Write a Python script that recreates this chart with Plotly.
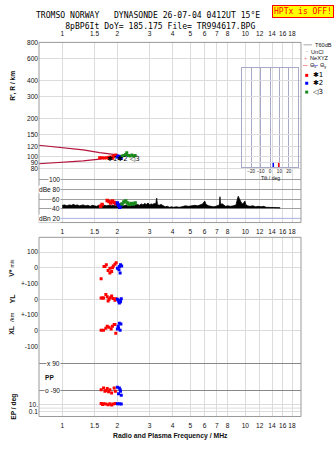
import plotly.graph_objects as go

W, H = 335, 451
def PX(px): return px / W
def PY(py): return 1 - py / H

# ---------------- data ----------------
freq_ticks = [1, 1.5, 2, 3, 4, 5, 6, 7, 8, 10, 12, 14, 16, 18]
freq_labels = ["1", "1.5", "2", "3", "4", "5", "6", "7", "8", "10", "12", "14", "16", "18"]
height_ticks = [80, 90, 100, 120, 150, 200, 300, 400, 600, 800]
tilt_ticks = [-20, -10, 0, 10, 20]

model_hi_f = [0.745, 1.0, 1.3, 1.6, 2.0]
model_hi_r = [123, 118, 113, 107.5, 103]
model_lo_f = [0.745, 1.0, 1.3, 1.6, 1.95]
model_lo_r = [87.7, 89.8, 92.5, 95.3, 100]

echo1_f = [1.6, 1.65, 1.7, 1.75, 1.8, 1.85, 1.88, 1.9, 1.93, 1.96, 1.99]
echo1_r = [98, 98, 97.5, 98, 98.5, 99, 97, 100, 102, 103, 101]
echo2_f = [2.0, 2.02, 2.04, 2.07, 2.1]
echo2_r = [99, 101, 98, 100, 97]
echo3_f = [2.12, 2.17, 2.22, 2.25, 2.3, 2.35, 2.4, 2.45, 2.5]
echo3_r = [101, 102, 104, 107, 102, 101, 103, 101, 102]

noise_f = [1.00, 1.03, 1.06, 1.09, 1.12, 1.15, 1.18, 1.21, 1.24, 1.27,
           1.30, 1.34, 1.38, 1.42, 1.46, 1.50, 1.54, 1.58, 1.62, 1.66,
           1.70, 1.75, 1.80, 1.85, 1.90, 1.95, 2.00, 2.05, 2.10, 2.16,
           2.22, 2.28, 2.34, 2.40, 2.46, 2.52, 2.58, 2.64, 2.70, 2.76,
           2.82, 2.88, 2.94, 3.00, 3.06, 3.12, 3.18, 3.24, 3.28, 3.31,
           3.38, 3.46, 3.55, 3.65, 3.75, 3.85, 3.95, 4.05, 4.2, 4.35,
           4.5, 4.7, 4.9, 5.1, 5.3, 5.5, 5.7, 5.85, 6.0, 6.1,
           6.3, 6.5, 6.7, 6.9, 7.1, 7.22, 7.27, 7.32, 7.5, 7.65,
           7.8, 8.0, 8.3, 8.6, 8.9, 9.0, 9.15, 9.3, 9.45, 9.6,
           9.8, 9.95, 10.05, 10.3, 10.6, 11.0, 11.4, 11.8, 12.2, 12.6,
           13.0, 13.5, 14.0, 14.5, 15.0, 15.5]
noise_db = [47, 48, 46, 48, 47, 49, 47, 48, 46, 47,
            48, 46, 47, 45, 47, 46, 45, 47, 46, 48,
            47, 46, 47, 46, 47, 46, 47, 46, 47, 46,
            47, 46, 47, 46, 47, 48, 49, 47, 50, 48,
            51, 49, 52, 48, 50, 49, 51, 50, 62, 49,
            47, 49, 46, 44, 45, 43, 44, 43, 44, 43,
            44, 46, 45, 46, 47, 46, 48, 50, 56, 49,
            46, 45, 44, 45, 46, 48, 65, 50, 50, 47,
            45, 46, 45, 46, 48, 56, 66, 60, 55, 50,
            52, 56, 49, 46, 45, 46, 44, 45, 44, 45,
            43, 43, 42, 43, 42, 42]
noise_floor = 41.5

db1_f = [1.62, 1.65, 1.76, 1.8, 1.84, 1.88, 1.92, 1.96]
db1_v = [45, 49, 57, 55, 52, 56, 53, 51]
db2_f = [2.0, 2.03, 2.06, 2.09]
db2_v = [52, 47, 43, 48]
db3_f = [2.12, 2.17, 2.22, 2.27, 2.32, 2.38, 2.44, 2.5]
db3_v = [50, 54, 56, 52, 49, 51, 50, 52]

v1_f = [1.63, 1.69, 1.71, 1.74, 1.78, 1.82, 1.82, 1.86, 1.88, 1.9, 1.94, 1.97]
v1_v = [-69, 8, 8, 19, -17, -2, -33, -23, 0, 12, 23, 33]
v2_f = [2.0, 2.04, 2.05, 2.07, 2.08, 2.11]
v2_v = [-2, -12, 8, -33, 19, 12]

yl1_f = [1.63, 1.66, 1.68, 1.73, 1.76, 1.78, 1.8, 1.83, 1.86, 1.9, 1.94, 1.97]
yl1_v = [8, 8, 8, 31, 17, -10, 0, 10, 21, 6, -6, 4]
yl2_f = [2.0, 2.03, 2.05, 2.07, 2.08, 2.1]
yl2_v = [0, -12, -23, -6, -15, 4]

xl1_f = [1.63, 1.68, 1.73, 1.76, 1.8, 1.85, 1.88, 1.92, 1.94, 1.96]
xl1_v = [4, 4, 17, 29, 23, 12, 29, 40, 40, -15]
xl2_f = [2.0, 2.02, 2.03, 2.05, 2.07, 2.09]
xl2_v = [12, 29, 17, 48, 4, 44]

pp1_f = [1.63, 1.68, 1.71, 1.73, 1.76, 1.79, 1.82, 1.86, 1.92, 1.95]
pp1_v = [-82, -71, -92, -88, -75, -96, -82, -103, -71, -92]
pp2_f = [2.0, 2.03, 2.05, 2.07, 2.08, 2.1]
pp2_v = [-66, -109, -71, -82, -92, -118]

ep1_f = [1.63, 1.66, 1.68, 1.73, 1.78, 1.82, 1.86, 1.9, 1.95]
ep1_v = [23, 12, 19, 16, 10, 19, 8, 16, 23]
ep2_f = [2.0, 2.05, 2.1]
ep2_v = [19, 19, 16]

tilt_x = [9.2]
tilt_y = [3.5]

RED, BLUE, GREEN = "#ff0000", "#0000ff", "#1a8a1a"
MODEL = "#b4143c"
GRID = "#dcdcdc"
FRAME = "#999999"
TF = dict(family="Liberation Sans", size=6.6, color="#111111")
MONO = "DejaVu Sans Mono"

fig = go.Figure()

def pts(x, y, color, xa, ya, size=3):
    fig.add_trace(go.Scatter(x=x, y=y, mode="markers", xaxis=xa, yaxis=ya,
                             marker=dict(symbol="square", size=size, color=color, line=dict(width=0)),
                             showlegend=False, hoverinfo="skip"))

# height panel
fig.add_trace(go.Scatter(x=model_hi_f, y=model_hi_r, mode="lines", xaxis="x", yaxis="y",
                         line=dict(color=MODEL, width=1.2), showlegend=False))
fig.add_trace(go.Scatter(x=model_lo_f, y=model_lo_r, mode="lines", xaxis="x", yaxis="y",
                         line=dict(color=MODEL, width=1.2), showlegend=False))
pts(echo1_f, echo1_r, RED, "x", "y")
pts(echo2_f, echo2_r, BLUE, "x", "y")
pts(echo3_f, echo3_r, GREEN, "x", "y")

# dB panel
fig.add_trace(go.Scatter(x=noise_f, y=[noise_floor] * len(noise_f), mode="lines", xaxis="x2", yaxis="y2",
                         line=dict(color="black", width=0.5), showlegend=False))
fig.add_trace(go.Scatter(x=noise_f, y=noise_db, mode="lines", xaxis="x2", yaxis="y2", fill="tonexty",
                         fillcolor="black", line=dict(color="black", width=0.8), showlegend=False))
pts(db1_f, db1_v, RED, "x2", "y2", 3.5)
pts(db2_f, db2_v, BLUE, "x2", "y2", 3.5)
pts(db3_f, db3_v, GREEN, "x2", "y2", 3.5)

# lower panels
for (f1, v1, f2, v2, ya) in [(v1_f, v1_v, v2_f, v2_v, "y3"), (yl1_f, yl1_v, yl2_f, yl2_v, "y4"),
                             (xl1_f, xl1_v, xl2_f, xl2_v, "y5"), (pp1_f, pp1_v, pp2_f, pp2_v, "y6"),
                             (ep1_f, ep1_v, ep2_f, ep2_v, "y7")]:
    pts(f1, v1, RED, "x3", ya)
    pts(f2, v2, BLUE, "x3", ya)

# tilt inset
fig.add_trace(go.Scatter(x=tilt_x, y=[84], mode="markers", xaxis="x4", yaxis="y8",
                         marker=dict(symbol="line-ns", size=5, line=dict(color=RED, width=1.5)), showlegend=False))
fig.add_trace(go.Scatter(x=tilt_y, y=[84], mode="markers", xaxis="x4", yaxis="y8",
                         marker=dict(symbol="line-ns", size=5, line=dict(color=BLUE, width=1.5)), showlegend=False))

XR = [-0.1273, 1.3044]
XD = [PX(39), PX(301)]
def xax(anchor, side, labels=True):
    return dict(domain=XD, type="log", range=XR, anchor=anchor, side=side, tickvals=freq_ticks,
                ticktext=freq_labels, showticklabels=labels, showgrid=True, gridcolor=GRID, gridwidth=1,
                zeroline=False, showline=False, ticks="outside", ticklen=3, tickcolor="rgba(0,0,0,0)",
                tickfont=TF, tickangle=0)

def yax(dom, rng, anchor, tickvals=None, ticktext=None, typ="linear", grid=GRID, labels=True):
    d = dict(domain=[PY(dom[1]), PY(dom[0])], range=rng, anchor=anchor, type=typ, showgrid=True,
             gridcolor=grid, zeroline=False, showline=False, ticks="", tickfont=TF,
             showticklabels=labels)
    if tickvals is not None:
        d["tickvals"] = tickvals
    if ticktext is not None:
        d["ticktext"] = ticktext
    return d

INSET_BOTTOM = 165.5
layout = dict(
    width=W, height=H, margin=dict(l=0, r=0, t=0, b=0),
    paper_bgcolor="white", plot_bgcolor="rgba(0,0,0,0)", showlegend=False,
    xaxis=xax("y", "top"),
    yaxis=yax((39, 173), [1.859, 2.906], "x", height_ticks, [str(v) for v in height_ticks], "log"),
    xaxis2=xax("y2", "bottom"),
    yaxis2=yax((173, 222), [11.2, 111.7], "x2", [40, 60, 80, 100], None, grid="#a0a0a0", labels=False),
    xaxis3=xax("y7", "bottom"),
    yaxis3=yax((237, 284), [-100, 193.75], "x3", [0, 100], ["0", "100"]),
    yaxis4=yax((284, 316), [-100, 100], "x3", [0, 100], ["0", "+-100"]),
    yaxis5=yax((316, 348), [-100, 100], "x3", [-100, 0, 100], ["-100", "0", "+-100"]),
    yaxis6=yax((348, 400), [-135, 199.3], "x3", [-90, 90], None, grid="#888888", labels=False),
    yaxis7=yax((400, 419), [-2.43, 3], "x3", [0.1, 10], ["0.1", "10."], "log"),
    xaxis4=dict(domain=[PX(241.7), PX(298.3)], range=[-30, 30], anchor="y8",
                tickvals=tilt_ticks, tickangle=0,
                showgrid=True, gridcolor="#a8a8c8", zeroline=False, showline=True, mirror=True,
                linecolor="#a8a8c8", ticks="", tickfont=dict(family="Liberation Sans", size=4.6, color="#222")),
    yaxis8=dict(domain=[PY(INSET_BOTTOM), PY(64.7)], type="log",
                range=[2 - (INSET_BOTTOM - 155) / 128, 2 + (155 - 64.7) / 128], anchor="x4",
                tickvals=height_ticks, showticklabels=False, showgrid=True, gridcolor=GRID,
                zeroline=False, showline=True, mirror=True, linecolor="#a8a8c8", ticks=""),
)
fig.update_layout(**layout)

shapes = [
    dict(type="rect", xref="x4 domain", yref="y8 domain", x0=0, x1=1, y0=0, y1=1,
         fillcolor="white", line=dict(width=0), layer="below"),
    dict(type="line", xref="x2 domain", yref="y2", x0=0, x1=1, y0=20, y1=20,
         line=dict(color="#aab0e0", width=1)),
    dict(type="line", xref="x3 domain", yref="y7", x0=0, x1=1, y0=1, y1=1,
         line=dict(color=GRID, width=1)),
    dict(type="rect", xref="paper", yref="paper", x0=PX(39), x1=PX(301), y0=PY(222), y1=PY(39),
         line=dict(color=FRAME, width=1)),
    dict(type="rect", xref="paper", yref="paper", x0=PX(39), x1=PX(301), y0=PY(419), y1=PY(237),
         line=dict(color=FRAME, width=1)),
    # legend glyphs
    dict(type="line", xref="paper", yref="paper", x0=PX(303.5), x1=PX(312), y0=PY(41.5), y1=PY(41.5),
         line=dict(color="#aaaaaa", width=1)),
    dict(type="line", xref="paper", yref="paper", x0=PX(303), x1=PX(307.5), y0=PY(62.5), y1=PY(62.5),
         line=dict(color="#f09090", width=1)),
    dict(type="line", xref="paper", yref="paper", x0=PX(313.5), x1=PX(318), y0=PY(62.5), y1=PY(62.5),
         line=dict(color="#8c8cf0", width=1)),
    dict(type="rect", xref="paper", yref="paper", x0=PX(305.2), x1=PX(308.2), y0=PY(74), y1=PY(71),
         fillcolor=RED, line=dict(width=0)),
    dict(type="rect", xref="paper", yref="paper", x0=PX(305.2), x1=PX(308.2), y0=PY(82), y1=PY(79),
         fillcolor=BLUE, line=dict(width=0)),
    dict(type="rect", xref="paper", yref="paper", x0=PX(305.2), x1=PX(308.2), y0=PY(91), y1=PY(88),
         fillcolor=GREEN, line=dict(width=0)),
]
fig.update_layout(shapes=shapes)

ann = []
def A(text, x, y, size=6.6, anchor="center", color="#111", angle=0, family="Liberation Sans", **kw):
    d = dict(text=text, x=PX(x), y=PY(y), xref="paper", yref="paper", showarrow=False,
             xanchor=anchor, yanchor="middle", textangle=angle,
             font=dict(family=family, size=size, color=color))
    d.update(kw)
    ann.append(d)

# titles (one two-line block; second line indented with spaces, monospace)
A("TROMSO NORWAY\u00a0\u00a0\u00a0DYNASONDE 26-07-04 0412UT 15°E<br>"
  + "\u00a0" * 6 + "8pBP6It DoY= 185.175 File= TR994617.BPG",
  35, 17, 8.1, "left", "black", family=MONO, borderpad=0, align="left")
A("HPTx is OFF!", 302.5, 8, 8.0, "center", "#ff0000", family=MONO, bgcolor="#ffff00",
  bordercolor="#ff0000", borderwidth=1, borderpad=1)

# axis labels
A("<b>R', R / km</b>", 13, 83, 6.6, angle=-90)
A("<b>V*</b> <span style='font-size:5px'>m/s</span>", 12, 268, 7, angle=-90)
A("<b>YL</b>", 12, 299, 7, angle=-90)
A("/km", 12, 318, 6, angle=-90)
A("<b>XL</b>", 12, 331, 7, angle=-90)
A("<b>EP / deg</b>", 14, 409, 6.6, angle=-90)
A("<b>PP</b>", 43, 379, 6.6, "left")
A("<b>Radio and Plasma Frequency / MHz</b>", 170, 439, 6.8)
A("Tilt / deg", 270, 176.5, 5.0, borderpad=0)

# dB labels (inside frame)
for txt, v in [("100", 100), ("dBe 80", 80), ("60", 60), ("40", 40), ("dBn 20", 20)]:
    ann.append(dict(text=txt, x=PX(61), y=v, xref="paper", yref="y2", showarrow=False, xanchor="right",
                    yanchor="middle", bgcolor="white", borderpad=0,
                    font=dict(family="Liberation Sans", size=6.6, color="#111")))
for txt, v in [("x 90", 90), ("o -90", -90)]:
    ann.append(dict(text=txt, x=PX(61), y=v, xref="paper", yref="y6", showarrow=False, xanchor="right",
                    yanchor="middle", bgcolor="white", borderpad=0,
                    font=dict(family="Liberation Sans", size=6.6, color="#111")))

# echo label in height panel
A("✱1✱2 ◁3", 123, 157.5, 7, color="black", family="DejaVu Sans")

# legend (right side)
LF = 5.6
A("T60dB", 312.5, 41.5, LF, "left")
A("·", 307, 48, LF, "center")
A("UnCl", 309, 48.5, LF, "left")
A("+", 305.5, 55, LF, "center", "#f08080")
A("NeXYZ", 308, 55, LF, "left")
A("Θ<sub>x</sub>", 307.5, 62.5, LF, "left")
A("Θ<sub>y</sub>", 318, 62.5, LF, "left")
A("✱1", 310.5, 72.5, 7, "left", "black", family="DejaVu Sans")
A("✱2", 310.5, 80.5, 7, "left", "black", family="DejaVu Sans")
A("◁3", 310.5, 89.5, 7, "left", "black", family="DejaVu Sans")

fig.update_layout(annotations=ann)
fig.write_html("out.html")
